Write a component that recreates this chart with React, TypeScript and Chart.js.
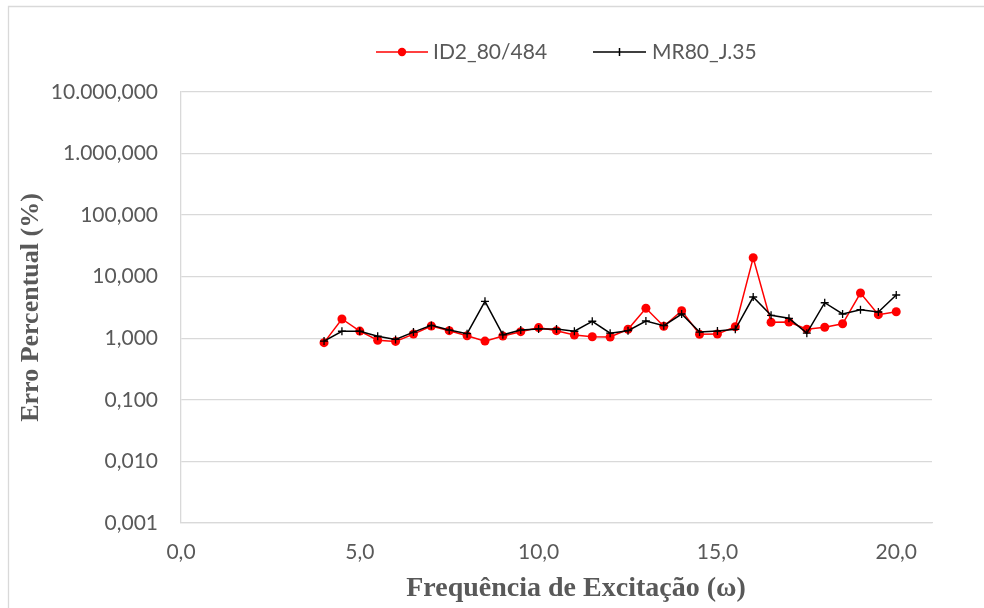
import React, { useEffect, useRef } from "react";
import { Chart, registerables } from "chart.js";

Chart.register(...registerables);

// Frequency values (x) — shared by both series
const frequencies = [
  4.0, 4.5, 5.0, 5.5, 6.0, 6.5, 7.0, 7.5, 8.0, 8.5, 9.0, 9.5, 10.0, 10.5, 11.0, 11.5, 12.0,
  12.5, 13.0, 13.5, 14.0, 14.5, 15.0, 15.5, 16.0, 16.5, 17.0, 17.5, 18.0, 18.5, 19.0, 19.5, 20.0,
];

// Series ID2_80/484 (red, circles)
const id2Values = [
  0.85, 2.06, 1.31, 0.93, 0.89, 1.17, 1.58, 1.33, 1.1, 0.9, 1.09, 1.28, 1.49, 1.33, 1.13, 1.06, 1.05,
  1.4, 3.07, 1.57, 2.8, 1.16, 1.17, 1.54, 20.3, 1.82, 1.84, 1.4, 1.51, 1.72, 5.43, 2.42, 2.7,
];

// Series MR80_J.35 (black, crosses)
const mr80Values = [
  0.9, 1.3, 1.3, 1.08, 0.96, 1.26, 1.62, 1.36, 1.19, 3.98, 1.14, 1.36, 1.42, 1.42, 1.3, 1.89, 1.21,
  1.33, 1.91, 1.6, 2.48, 1.26, 1.31, 1.4, 4.68, 2.36, 2.11, 1.21, 3.78, 2.48, 2.91, 2.67, 5.05,
];

const seriesNames = ["ID2_80/484", "MR80_J.35"];
const xTickValues = [0, 5, 10, 15, 20];
const yTickValues = [0.001, 0.01, 0.1, 1, 10, 100, 1000, 10000];
const xTitle = "Frequência de Excitação (ω)";
const yTitle = "Erro Percentual (%)";

const GRAY_TEXT = "#595959";
const GRID = "#d9d9d9";
const TICK_FONT = "Lato";

function fmtBR(v: number, decimals: number): string {
  const fixed = Math.abs(v).toFixed(decimals);
  const [intPart, dec] = fixed.split(".");
  const grouped = intPart.replace(/\B(?=(\d{3})+(?!\d))/g, ".");
  return (v < 0 ? "-" : "") + grouped + (dec ? "," + dec : "");
}

const decorPlugin = {
  id: "decor",
  beforeDraw(chart: any) {
    const ctx = chart.ctx;
    ctx.save();
    ctx.strokeStyle = GRID;
    ctx.lineWidth = 1.3;
    ctx.beginPath();
    ctx.moveTo(8.5, 700);
    ctx.lineTo(8.5, 6.5);
    ctx.lineTo(1000, 6.5);
    ctx.stroke();
    ctx.restore();
  },
  afterDraw(chart: any) {
    const ctx = chart.ctx;
    const area = chart.chartArea;
    ctx.save();
    // Legend
    const ly = 52;
    ctx.font = `21px ${TICK_FONT}`;
    ctx.textBaseline = "middle";
    ctx.textAlign = "left";
    // item 1
    ctx.strokeStyle = "#ff0000";
    ctx.lineWidth = 1.5;
    ctx.beginPath();
    ctx.moveTo(376, ly);
    ctx.lineTo(428, ly);
    ctx.stroke();
    ctx.fillStyle = "#ff0000";
    ctx.beginPath();
    ctx.arc(402, ly, 4.2, 0, Math.PI * 2);
    ctx.fill();
    ctx.fillStyle = GRAY_TEXT;
    ctx.fillText(seriesNames[0], 433, ly);
    // item 2
    ctx.strokeStyle = "#000000";
    ctx.lineWidth = 1.5;
    ctx.beginPath();
    ctx.moveTo(593, ly);
    ctx.lineTo(646, ly);
    ctx.moveTo(619.5, ly - 4);
    ctx.lineTo(619.5, ly + 4);
    ctx.stroke();
    ctx.fillStyle = GRAY_TEXT;
    ctx.fillText(seriesNames[1], 652, ly);

    // Axis titles
    ctx.fillStyle = GRAY_TEXT;
    ctx.textAlign = "center";
    ctx.textBaseline = "middle";
    ctx.font = `bold 28px "Liberation Serif", "Times New Roman", serif`;
    ctx.fillText(xTitle, 576, 589);
    ctx.font = `bold 26px "Liberation Serif", "Times New Roman", serif`;
    ctx.translate(31, (area.top + area.bottom) / 2);
    ctx.rotate(-Math.PI / 2);
    ctx.fillText(yTitle, 0, 0);
    ctx.restore();
  },
};

export default function App() {
  const canvasRef = useRef<HTMLCanvasElement | null>(null);

  useEffect(() => {
    const canvas = canvasRef.current;
    if (!canvas) return;
    const chart = new Chart(canvas, {
      type: "line",
      data: {
        datasets: [
          {
            label: seriesNames[0],
            data: frequencies.map((x, i) => ({ x, y: id2Values[i] })),
            borderColor: "#ff0000",
            backgroundColor: "#ff0000",
            borderWidth: 1.5,
            pointStyle: "circle",
            pointRadius: 4.5,
            pointBorderWidth: 0,
            order: 1,
          },
          {
            label: seriesNames[1],
            data: frequencies.map((x, i) => ({ x, y: mr80Values[i] })),
            borderColor: "#000000",
            backgroundColor: "#000000",
            borderWidth: 1.5,
            pointStyle: "cross",
            pointRadius: 4,
            pointBorderWidth: 1.3,
            order: 0,
          },
        ],
      },
      options: {
        responsive: false,
        animation: false,
        devicePixelRatio: 1,
        layout: { padding: { top: 92, left: 0, right: 52, bottom: 0 } },
        plugins: {
          legend: { display: false },
          tooltip: { enabled: false },
          title: { display: false },
        },
        scales: {
          x: {
            type: "linear",
            min: 0,
            max: 21,
            afterBuildTicks: (scale: any) => {
              scale.ticks = xTickValues.map((v) => ({ value: v }));
            },
            afterFit: (scale: any) => {
              scale.height = 85;
            },
            grid: { display: false, drawTicks: false },
            border: { display: true, color: GRID, width: 1.3 },
            ticks: {
              padding: 17,
              color: GRAY_TEXT,
              font: { family: TICK_FONT, size: 21 },
              maxRotation: 0,
              callback: (v: any) => fmtBR(Number(v), 1),
            },
          },
          y: {
            type: "logarithmic",
            min: 0.001,
            max: 10000,
            afterBuildTicks: (scale: any) => {
              scale.ticks = yTickValues.map((v) => ({ value: v, major: true }));
            },
            afterFit: (scale: any) => {
              scale.width = 181;
            },
            grid: { color: GRID, lineWidth: 1.3, drawTicks: false },
            border: { display: true, color: GRID, width: 1.3 },
            ticks: {
              padding: 23,
              color: GRAY_TEXT,
              font: { family: TICK_FONT, size: 21 },
              autoSkip: false,
              callback: (v: any) => fmtBR(Number(v), 3),
            },
          },
        },
      },
      plugins: [decorPlugin],
    });
    return () => chart.destroy();
  }, []);

  return (
    <div style={{ position: "fixed", left: 0, top: 0, width: 984, height: 608, background: "#fff" }}>
      <canvas ref={canvasRef} width={984} height={608} style={{ width: 984, height: 608, display: "block" }} />
    </div>
  );
}
